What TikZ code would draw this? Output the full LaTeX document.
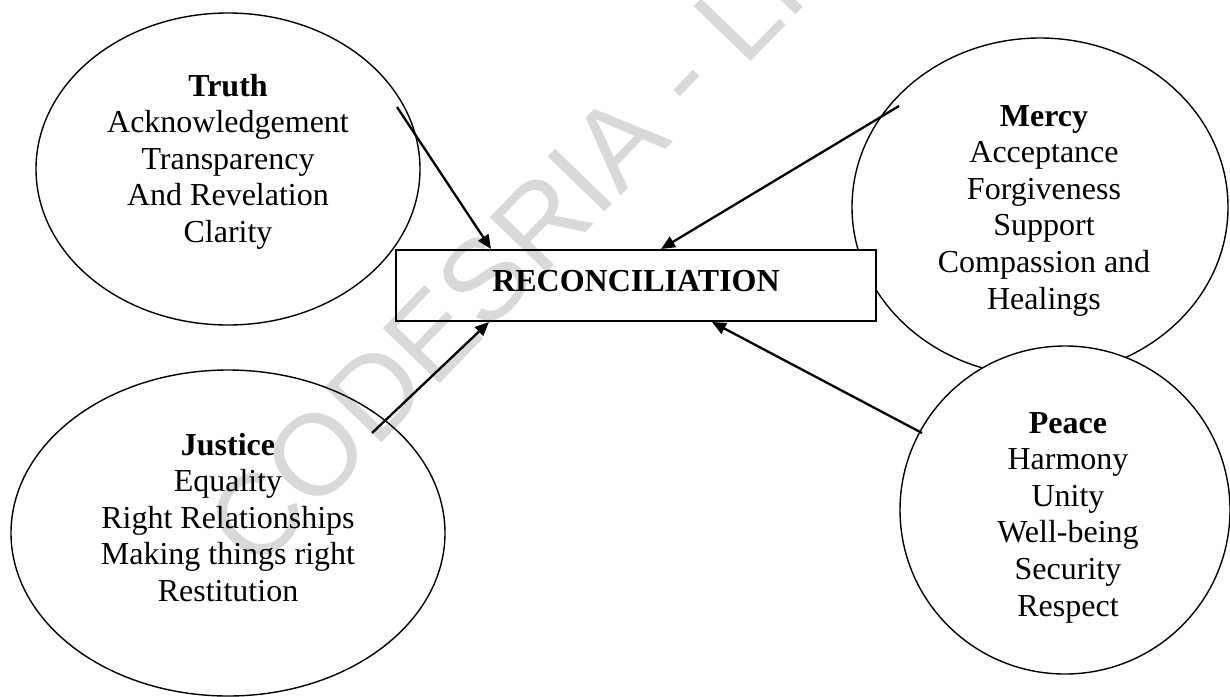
\documentclass[tikz,border=0pt]{standalone}
\usepackage{fontspec}
\setmainfont{Liberation Serif}
\newfontfamily\wmfont{Liberation Sans}
\usetikzlibrary{shapes.geometric,arrows.meta,calc}

\begin{document}
\begin{tikzpicture}[x=1pt,y=-1pt,
  bubble/.style={draw, ellipse, line width=1.4pt, fill=white, inner sep=0pt},
  boxnode/.style={draw, rectangle, line width=2pt, fill=white, inner sep=0pt,
                  minimum width=480pt, minimum height=71pt},
  lbl/.style={align=center, anchor=base, inner sep=0pt,
              font=\fontsize{32}{36.6}\selectfont},
  link/.style={line width=2.3pt, -{Triangle[length=14pt,width=12pt]}},
]
\useasboundingbox (0,0) rectangle (1230,696);

% the four value bubbles
\node[bubble, minimum width=384pt, minimum height=312pt] (truth)   at (228,169) {};
\node[bubble, minimum width=434pt, minimum height=326pt] (justice) at (228,533) {};
\node[bubble, minimum width=376pt, minimum height=338pt] (mercy)   at (1040,207) {};
\node[bubble, minimum width=330pt, minimum height=328pt] (peace)   at (1065,510) {};

% central box
\node[boxnode] (recon) at (636,285.5) {};
\node[lbl, font=\fontsize{32}{36.6}\selectfont\bfseries] (recontext) at (636,291) {RECONCILIATION};

% bubble texts (placed by the baseline of their last line)
\node[lbl] (truthtext) at (228,242.4)
  {{\bfseries Truth}\\Acknowledgement\\Transparency\\And Revelation\\Clarity};
\node[lbl] (justicetext) at (228,601.4)
  {{\bfseries Justice}\\Equality\\Right Relationships\\Making things right\\Restitution};
\node[lbl] (mercytext) at (1044,309)
  {{\bfseries Mercy}\\Acceptance\\Forgiveness\\Support\\Compassion and\\Healings};
\node[lbl] (peacetext) at (1068,616)
  {{\bfseries Peace}\\Harmony\\Unity\\Well-being\\Security\\Respect};

% arrow ends
\coordinate (truthtail)   at (397,107);
\coordinate (mercytail)   at (899,106);
\coordinate (justicetail) at (372,433);
\coordinate (peacetail)   at (922,433);
\coordinate (truthtip)    at ($(recon.north west)+(96,0)$);
\coordinate (mercytip)    at ($(recon.north west)+(266,0)$);
\coordinate (justicetip)  at ($(recon.south west)+(94,0)$);
\coordinate (peacetip)    at ($(recon.south west)+(317,0)$);

\draw[link] (truthtail)   -- (truthtip);
\draw[link] (mercytail)   -- (mercytip);
\draw[link] (justicetail) -- (justicetip);
\draw[link] (peacetail)   -- (peacetip);

% faint diagonal watermark
\begin{scope}
  \clip (0,0) rectangle (1230,696);
  \node[rotate=46, anchor=base west, inner sep=0pt, text=black, text opacity=0.15,
        font=\wmfont\fontsize{115}{115}\selectfont] (wm) at (256,574) {CODESRIA - LI};
\end{scope}
\end{tikzpicture}
\end{document}
